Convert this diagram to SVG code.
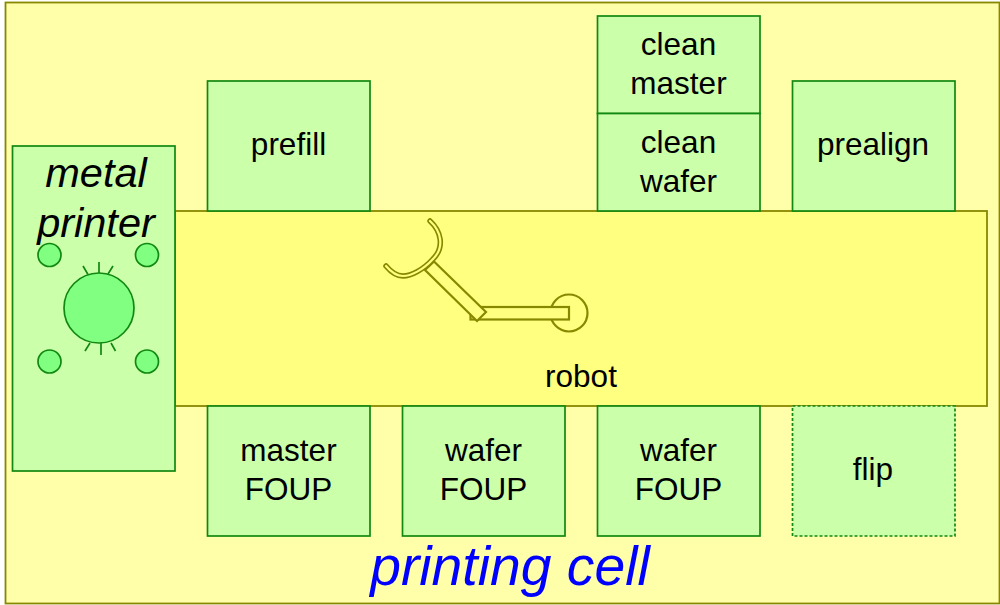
<svg xmlns="http://www.w3.org/2000/svg" width="1000" height="605" viewBox="0 0 1000 605">
<style>
text{font-family:"Liberation Sans",Arial,sans-serif;fill:#000;text-anchor:middle;font-size:31.500px}
.box{fill:#ccffaa;stroke:#118811;stroke-width:1.700}
.dot{fill:#80ff80;stroke:#118811;stroke-width:1.700}
.tick{stroke:#118811;stroke-width:1.700;fill:none}
.y{fill:#ffff80;stroke:#888800;stroke-width:1.800}
.arm{fill:#ffff80;stroke:#888800;stroke-width:2.200}
</style>
<rect width="1000" height="605" fill="#fff"/>
<g id="printing-cell"><rect x="5.500" y="2.500" width="994" height="601" fill="#ffffaa" stroke="#888800" stroke-width="1.800"/>
<text x="510" y="585" style="font-size:55.300px;font-style:italic;fill:#0000ff">printing cell</text></g>
<g id="robot">
<rect class="y" x="175" y="211" width="812" height="195"/>
<text x="581" y="387">robot</text>
<g id="robot-arm">
<circle class="arm" cx="569" cy="313" r="18.500"/>
<rect class="arm" x="470.500" y="307" width="98.500" height="12.500"/>
<polygon class="arm" points="425,270 434,261.500 486,312 477,321"/>
<path d="M430,221 C441,231 445,247 433,259 C423,270 411,276 403,276 C396,276 391,272 386,266" fill="none" stroke="#888800" stroke-width="5.500" stroke-linecap="round"/>
<path d="M430,221 C441,231 445,247 433,259 C423,270 411,276 403,276 C396,276 391,272 386,266" fill="none" stroke="#ffff80" stroke-width="2.200" stroke-linecap="round"/>
</g>
</g>
<g id="metal-printer">
<rect class="box" x="12.500" y="146" width="162.500" height="325"/>
<text x="96" y="187" style="font-size:41.500px;font-style:italic">metal</text>
<text x="96" y="237" style="font-size:41.500px;font-style:italic">printer</text>
<circle class="dot" cx="99" cy="308" r="35"/>
<circle class="dot" cx="49.500" cy="255" r="11.500"/>
<circle class="dot" cx="147" cy="255" r="11.500"/>
<circle class="dot" cx="49.500" cy="361.500" r="11.500"/>
<circle class="dot" cx="147" cy="361.500" r="11.500"/>
<path class="tick" d="M99,262V273M83,266L88,274.500M113,266L108,274M101,343V355M90,343L85,351M111,343L115.500,351"/>
</g>
<g id="prefill"><rect class="box" x="207.500" y="81" width="162.500" height="130"/><text x="288.500" y="155">prefill</text></g>
<g id="clean-master"><rect class="box" x="597.500" y="16" width="162.500" height="97.500"/><text x="678.500" y="55">clean</text><text x="678.500" y="93.500">master</text></g>
<g id="clean-wafer"><rect class="box" x="597.500" y="113.500" width="162.500" height="97.500"/><text x="678.500" y="152.500">clean</text><text x="678.500" y="192">wafer</text></g>
<g id="prealign"><rect class="box" x="792.500" y="81" width="162.500" height="130"/><text x="873" y="155">prealign</text></g>
<g id="master-foup"><rect class="box" x="207.500" y="406" width="162.500" height="130"/><text x="288.500" y="461">master</text><text x="288.500" y="500">FOUP</text></g>
<g id="wafer-foup-1"><rect class="box" x="402.500" y="406" width="162.500" height="130"/><text x="483.500" y="461">wafer</text><text x="483.500" y="500">FOUP</text></g>
<g id="wafer-foup-2"><rect class="box" x="597.500" y="406" width="162.500" height="130"/><text x="678.500" y="461">wafer</text><text x="678.500" y="500">FOUP</text></g>
<g id="flip"><rect class="box" x="792.500" y="406" width="162.500" height="130" stroke-dasharray="3 2"/><text x="873" y="480">flip</text></g>
<g id="connectors"></g>
</svg>
